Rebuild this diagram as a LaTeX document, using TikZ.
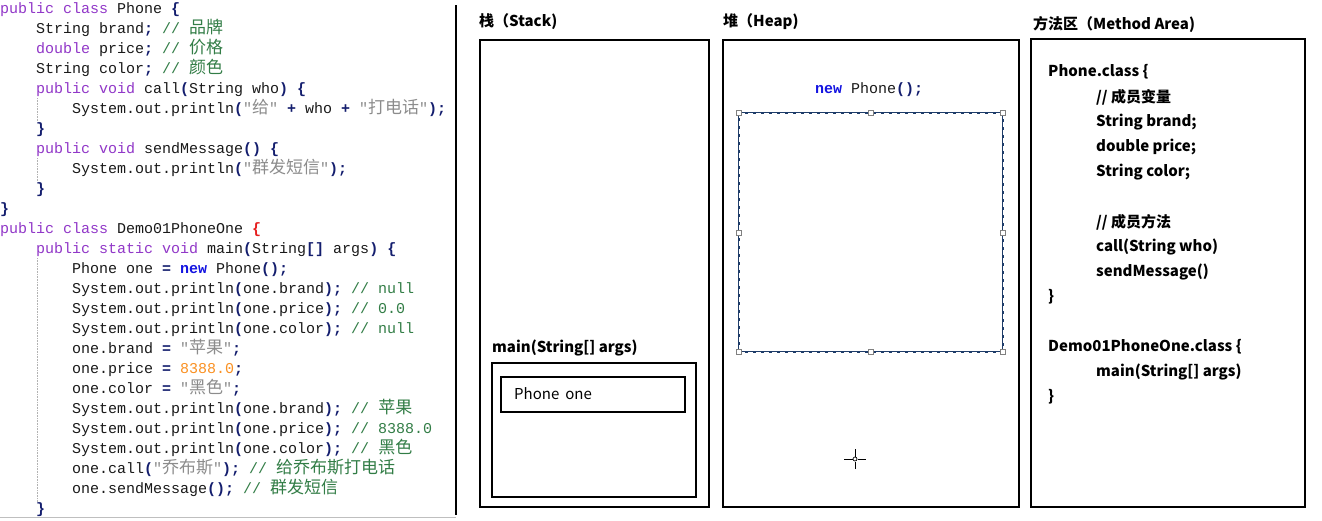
\documentclass[tikz,border=0pt]{standalone}
\usepackage{fontspec}
\setmainfont{Noto Sans CJK SC}
\setmonofont{Liberation Mono}
\usetikzlibrary{positioning}

\definecolor{kwcol}{RGB}{145,55,200}
\definecolor{newcol}{RGB}{20,20,225}
\definecolor{cmcol}{RGB}{50,125,70}
\definecolor{stcol}{RGB}{140,140,140}
\definecolor{numcol}{RGB}{250,145,35}
\definecolor{pncol}{RGB}{20,30,110}
\definecolor{redcol}{RGB}{230,30,30}
\definecolor{txtcol}{RGB}{25,25,25}
\definecolor{selblue}{RGB}{30,60,105}

\newcommand{\jkw}[1]{\textcolor{kwcol}{#1}}
\newcommand{\jnew}[1]{\textcolor{newcol}{\bfseries #1}}
\newcommand{\jcm}[1]{\textcolor{cmcol}{#1}}
\newcommand{\jst}[1]{\textcolor{stcol}{#1}}
\newcommand{\jnum}[1]{\textcolor{numcol}{#1}}
\newcommand{\jp}[1]{\textcolor{pncol}{\bfseries #1}}
\newcommand{\jred}[1]{\textcolor{redcol}{\bfseries #1}}
\newcommand{\zh}[1]{{\rmfamily\fontsize{17}{20}\selectfont #1}}

\tikzset{
  code/.style={anchor=base west,inner sep=0pt,text=txtcol,
    font=\ttfamily\fontsize{15}{20}\selectfont},
  head/.style={anchor=west,inner sep=0pt,font=\bfseries\fontsize{15}{18}\selectfont},
  mtxt/.style={anchor=west,inner sep=0pt,font=\bfseries\fontsize{15}{18}\selectfont},
  frame/.style={line width=2.6pt},
  guide/.style={black!30,densely dotted,line width=0.6pt},
  handle/.style={draw=black!50,fill=white,line width=0.5pt}
}

\begin{document}
\begin{tikzpicture}[x=1pt,y=-1pt,line join=miter]
	\fill[white] (0,0) rectangle (1322,520);
	\useasboundingbox (0,0) rectangle (1322,520);
	
	% code panel
	\node[code] (l0)  at (0,13)  {\jkw{public class} Phone \jp{\{}};
	\node[code] (l1)  at (36,33) {String brand\jp{;} \jcm{// \zh{品牌}}};
	\node[code] (l2)  at (36,53) {\jkw{double} price\jp{;} \jcm{// \zh{价格}}};
	\node[code] (l3)  at (36,73) {String color\jp{;} \jcm{// \zh{颜色}}};
	\node[code] (l4)  at (36,93) {\jkw{public void} call\jp{(}String who\jp{)} \jp{\{}};
	\node[code] (l5)  at (72,113) {System.out.println\jp{(}\jst{"\zh{给}"} \jp{+} who \jp{+} \jst{"\zh{打电话}"}\jp{);}};
	\node[code] (l6)  at (36,133) {\jp{\}}};
	\node[code] (l7)  at (36,153) {\jkw{public void} sendMessage\jp{()} \jp{\{}};
	\node[code] (l8)  at (72,173) {System.out.println\jp{(}\jst{"\zh{群发短信}"}\jp{);}};
	\node[code] (l9)  at (36,193) {\jp{\}}};
	\node[code] (l10) at (0,213) {\jp{\}}};
	\node[code] (l11) at (0,233) {\jkw{public class} Demo01PhoneOne \jred{\{}};
	\node[code] (l12) at (36,253) {\jkw{public static void} main\jp{(}String\jp{[]} args\jp{)} \jp{\{}};
	\node[code] (l13) at (72,273) {Phone one \jp{=} \jnew{new} Phone\jp{();}};
	\node[code] (l14) at (72,293) {System.out.println\jp{(}one.brand\jp{);} \jcm{// null}};
	\node[code] (l15) at (72,313) {System.out.println\jp{(}one.price\jp{);} \jcm{// 0.0}};
	\node[code] (l16) at (72,333) {System.out.println\jp{(}one.color\jp{);} \jcm{// null}};
	\node[code] (l17) at (72,353) {one.brand \jp{=} \jst{"\zh{苹果}"}\jp{;}};
	\node[code] (l18) at (72,373) {one.price \jp{=} \jnum{8388.0}\jp{;}};
	\node[code] (l19) at (72,393) {one.color \jp{=} \jst{"\zh{黑色}"}\jp{;}};
	\node[code] (l20) at (72,413) {System.out.println\jp{(}one.brand\jp{);} \jcm{// \zh{苹果}}};
	\node[code] (l21) at (72,433) {System.out.println\jp{(}one.price\jp{);} \jcm{// 8388.0}};
	\node[code] (l22) at (72,453) {System.out.println\jp{(}one.color\jp{);} \jcm{// \zh{黑色}}};
	\node[code] (l23) at (72,473) {one.call\jp{(}\jst{"\zh{乔布斯}"}\jp{);} \jcm{// \zh{给乔布斯打电话}}};
	\node[code] (l24) at (72,493) {one.sendMessage\jp{();} \jcm{// \zh{群发短信}}};
	\node[code] (l25) at (36,513) {\jp{\}}};
	
	\draw[guide] (37,98)--(37,121) (37,158)--(37,181) (37,258)--(37,502);
	\draw[black!25,line width=0.8pt] (0,517)--(456,517);
	\draw[line width=2pt] (456,5)--(456,515);
	
	% stack
	\coordinate (A) at (480,40);
	\coordinate (B) at (709,507);
	\coordinate (M) at (492,363);
	\coordinate (N) at (696,497);
	\coordinate (P) at (501,377);
	\coordinate (Q) at (685,412);
	\draw[frame] (A) rectangle (B);
	\draw[frame] (M) rectangle (N);
	\draw[frame] (P) rectangle (Q);
	\node[head] (stackT) at (479,22) {栈（Stack)};
	\node[mtxt] (mainT) at (492,348) {main(String[] args)};
	\node[anchor=west,inner sep=0pt,font=\fontsize{15}{18}\selectfont] (one) at (514,394) {Phone\hspace{6pt}one};
	
	% heap
	\coordinate (C) at (723,40);
	\coordinate (D) at (1019,507);
	\coordinate (E) at (739,113);
	\coordinate (F) at (1003,352);
	\draw[frame] (C) rectangle (D);
	\node[head] (heapT) at (723,22) {堆（Heap)};
	\node[code,anchor=center] (newP) at (869,90) {\jnew{new} Phone\jp{();}};
	\draw[selblue,line width=2.4pt] (E) rectangle (F);
	\draw[white,line width=0.7pt,dash pattern=on 5pt off 3pt] (E) rectangle (F);
	\foreach \hx/\hy in {739/113,871/113,1003/113,739/233,1003/233,739/352,871/352,1003/352}
		\draw[handle] (\hx-2.5,\hy-2.5) rectangle (\hx+2.5,\hy+2.5);
	% cursor
	\coordinate (K) at (855,459);
	\draw[line width=0.8pt] ([yshift=-10pt]K)--([yshift=-2.5pt]K) ([yshift=2.5pt]K)--([yshift=10pt]K)
		([xshift=-11pt]K)--([xshift=-2.5pt]K) ([xshift=2.5pt]K)--([xshift=11pt]K);
	\draw[line width=0.7pt] (K) circle (2pt);
	
	% method area
	\coordinate (G) at (1031,39);
	\coordinate (H) at (1305,507);
	\draw[frame] (G) rectangle (H);
	\node[head] (methT) at (1033,24) {方法区（Method Area)};
	\node[mtxt] (m0) at (1048,72)  {Phone.class \{};
	\node[mtxt] (m1) at (1096,97)  {// 成员变量};
	\node[mtxt] (m2) at (1096,122) {String brand;};
	\node[mtxt] (m3) at (1096,147) {double price;};
	\node[mtxt] (m4) at (1096,172) {String color;};
	\node[mtxt] (m5) at (1096,222) {// 成员方法};
	\node[mtxt] (m6) at (1096,247) {call(String who)};
	\node[mtxt] (m7) at (1096,272) {sendMessage()};
	\node[mtxt] (m8) at (1048,297) {\}};
	\node[mtxt] (m9) at (1048,347) {Demo01PhoneOne.class \{};
	\node[mtxt] (m10) at (1096,372) {main(String[] args)};
	\node[mtxt] (m11) at (1048,397) {\}};
\end{tikzpicture}
\end{document}
